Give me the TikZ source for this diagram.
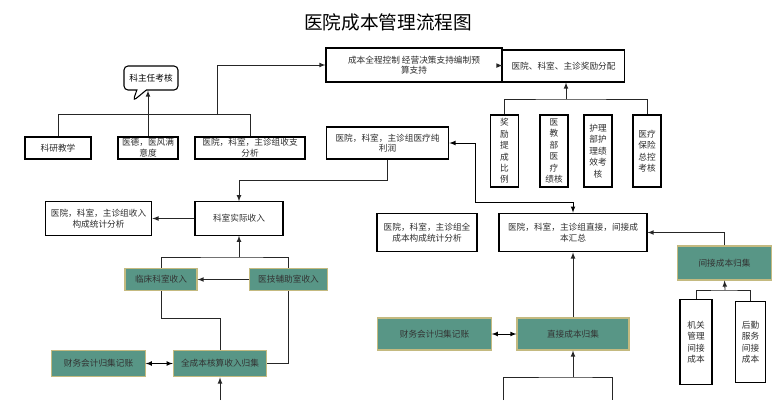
\documentclass[tikz,border=0pt]{standalone}
\usepackage{fontspec}
\setmainfont{Noto Sans CJK SC}
\usetikzlibrary{shapes.callouts}
\definecolor{tealbox}{RGB}{88,150,134}
\definecolor{tanline}{RGB}{196,186,128}
\definecolor{inktext}{RGB}{45,45,45}

\begin{document}
\begin{tikzpicture}[x=0.75pt,y=-0.75pt,
    box/.style={draw=black, thick, fill=white, align=center, inner sep=1pt,
                font=\fontsize{6.5}{8}\selectfont, text=inktext},
    tbox/.style={box, draw=tanline, fill=tealbox, text=black!80},
    vbox/.style={box, font=\fontsize{6.5}{8.6}\selectfont},
    link/.style={semithick, black!85},
    arr/.style={link, -latex}]
    \useasboundingbox (0,0) rectangle (777,400);
    \fill[white] (0,0) rectangle (777,400);

    \node[font=\fontsize{14}{16}\selectfont] (Title) at (388,22) {医院成本管理流程图};

    % top row
    \node[box, minimum width=132pt, minimum height=25.5pt] (Ctrl) at (414,65)
        {成本全程控制 经营决策支持编制预\\算支持};
    \node[box, minimum width=92pt, minimum height=24pt] (Award) at (563.5,66)
        {医院、科室、主诊奖励分配};
    \node[rectangle callout, rounded corners=3pt, draw=black, thick, fill=white,
          font=\fontsize{6.5}{8}\selectfont, minimum width=40.5pt, minimum height=18pt,
          callout absolute pointer={(133,101)}] (Chief) at (151,78) {科主任考核};

    % second row
    \node[box, minimum width=49.5pt, minimum height=16.5pt] (Res) at (58,148) {科研教学};
    \node[box, minimum width=45pt, minimum height=16.5pt] (Ethic) at (148,148) {医德，医风满\\意度};
    \node[box, minimum width=82.5pt, minimum height=16.5pt] (InOut) at (250,148) {医院，科室，主诊组收支\\分析};
    \node[box, minimum width=92pt, minimum height=24pt] (Profit) at (387.5,143) {医院，科室，主诊组医疗纯\\利润};

    \node[vbox, minimum width=21pt, minimum height=54pt] (VA) at (504.5,151) {奖\\励\\提\\成\\比\\例};
    \node[vbox, minimum width=21pt, minimum height=54pt] (VB) at (554,151) {医\\教\\部\\医\\疗\\绩核};
    \node[vbox, minimum width=21pt, minimum height=54pt] (VC) at (598,151) {护理\\部护\\理绩\\效考\\核};
    \node[vbox, minimum width=21pt, minimum height=54pt] (VD) at (647,151) {医疗\\保险\\总控\\考核};

    % middle
    \node[box, minimum width=66pt, minimum height=25pt] (Income) at (239,218.5) {科室实际收入};
    \node[box, minimum width=80pt, minimum height=25pt] (IncStat) at (98.5,218.5) {医院，科室，主诊组收入\\构成统计分析};
    \node[box, minimum width=75pt, minimum height=29pt] (CostStat) at (427,232.5) {医院，科室，主诊组全\\成本构成统计分析};
    \node[box, minimum width=111pt, minimum height=29pt] (CostSum) at (573,232.5) {医院，科室，主诊组直接，间接成\\本汇总};
    \node[tbox, minimum width=70pt, minimum height=25.5pt] (Indir) at (724.5,263) {间接成本归集};
    \node[vbox, minimum width=24pt, minimum height=64pt] (Adm) at (696,342) {机关\\管理\\间接\\成本};
    \node[vbox, minimum width=22pt, minimum height=61pt] (Log) at (750.5,342) {后勤\\服务\\间接\\成本};

    % lower teal boxes
    \node[tbox, minimum width=54pt, minimum height=17pt] (Clin) at (161,279.5) {临床科室收入};
    \node[tbox, minimum width=58pt, minimum height=17pt] (Tech) at (288.5,279.5) {医技辅助室收入};
    \node[tbox, minimum width=70pt, minimum height=20pt] (FinL) at (98.5,363.5) {财务会计归集记账};
    \node[tbox, minimum width=70pt, minimum height=20pt] (FullInc) at (220,363.5) {全成本核算收入归集};
    \node[tbox, minimum width=85pt, minimum height=24pt] (FinR) at (434.5,334) {财务会计归集记账};
    \node[tbox, minimum width=84pt, minimum height=24pt] (Direct) at (573,334) {直接成本归集};

    \coordinate (BotL) at (220,400);
    \coordinate (BotM) at (573,377);

    % connectors
    \draw[arr] (Award) -- (Ctrl);
    \draw[link] (Res.north) -- ++(0,-22) -| (InOut.north);
    \draw[arr] (Ethic.north) -- (Chief.south -| Ethic.north);
    \draw[arr] (217,115) |- (Ctrl.west);
    \draw[link] (VA.north) |- (566,99) -| (VD.north);
    \draw[arr] (566,99) -- (Award.south -| 566,0);
    \draw[arr] (Profit.south) |- (Income.north |- 0,180) -- (Income.north);
    \draw[arr] (Income) -- (IncStat);
    \draw[latex-latex, semithick] (Profit.east) -| (475,202) -| (CostSum.north);
    \draw[arr] (Indir.north) |- (CostSum.east);
    \draw[link] (Adm.north) |- (725,290) -| (Log.north);
    \draw[arr] (725,290) -- (Indir.south);
    \draw[link] (Clin.north) |- (Income.south |- 0,257) -| (Tech.north);
    \draw[arr] (239,257) -- (Income.south);
    \draw[arr] (Tech) -- (Clin);
    \draw[link] (Clin.south) |- (FullInc.north |- 0,318) -- (FullInc.north);
    \draw[link] (Tech.south) |- (FullInc.east);
    \draw[latex-latex, semithick] (FinL) -- (FullInc);
    \draw[arr] (BotL) -- (FullInc.south);
    \draw[latex-latex, semithick] (FinR) -- (Direct);
    \draw[arr] (Direct.north) -- (CostSum.south);
    \draw[arr] (BotM) -- (Direct.south);
    \draw[link] (503,400) |- (BotM) -| (612,400);
\end{tikzpicture}
\end{document}
